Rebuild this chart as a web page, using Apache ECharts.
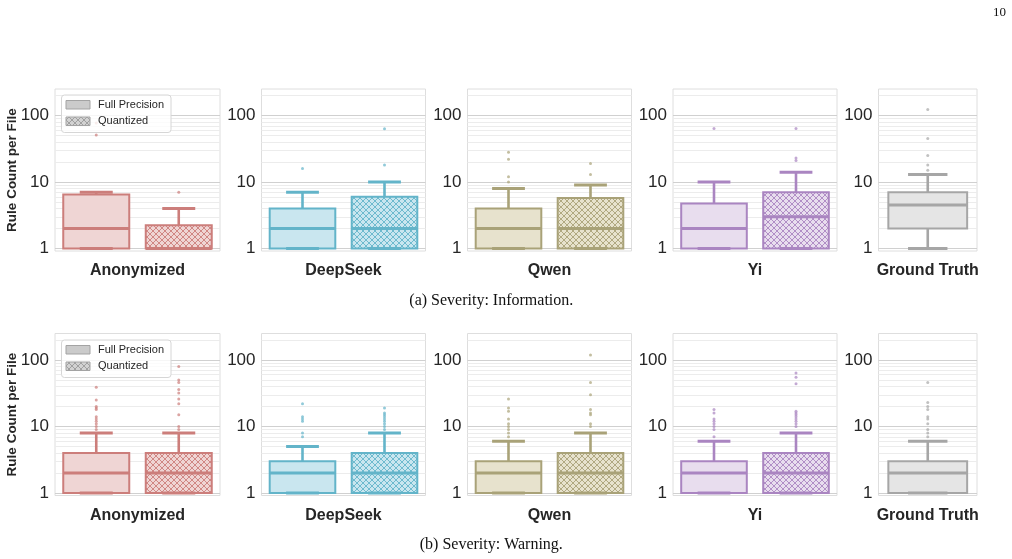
<!DOCTYPE html>
<html><head><meta charset="utf-8">
<script src="https://cdn.jsdelivr.net/npm/echarts@6/dist/echarts.min.js"></script>
<style>html,body{margin:0;padding:0;background:#fff}#c{width:1012px;height:559px}</style>
</head><body><div id="c"></div>
<script>
// ---------------- data ----------------
const categories = ['Anonymized', 'DeepSeek', 'Qwen', 'Yi', 'Ground Truth'];
const hues = ['Full Precision', 'Quantized'];
const rowCaptions = ['(a) Severity: Information.', '(b) Severity: Warning.'];
const yAxisTitle = 'Rule Count per File';
const yTickValues = [1, 10, 100];
const minorGridValues = [2, 3, 4, 5, 6, 7, 8, 9, 20, 30, 40, 50, 60, 70, 80, 90, 200];
const pageNumber = '10';

// box stats per category: [lowerWhisker, q1, median, q3, upperWhisker]
const infoFullPrecision = [[1, 1, 2, 6.5, 7], [1, 1, 2, 4, 7], [1, 1, 2, 4, 8], [1, 1, 2, 4.75, 10], [1, 2, 4.5, 7, 13]];
const infoQuantized = [[1, 1, 1, 2.25, 4], [1, 1, 2, 6, 10], [1, 1, 2, 5.75, 9], [1, 1, 3, 7, 14], null];
const infoFullPrecisionOutliers = [[51, 77], [16], [10, 12, 22, 28], [64], [15, 18, 25, 45, 123]];
const infoQuantizedOutliers = [[7], [18, 63], [13, 19], [21, 23, 64], null];

const warnFullPrecision = [[1, 1, 2, 4, 8], [1, 1, 2, 3, 5], [1, 1, 2, 3, 6], [1, 1, 2, 3, 6], [1, 1, 2, 3, 6]];
const warnQuantized = [[1, 1, 2, 4, 8], [1, 1, 2, 4, 8], [1, 1, 2, 4, 8], [1, 1, 2, 4, 8], null];
const warnFullPrecisionOutliers = [[9, 10, 11, 12, 13, 14, 18, 19, 20, 25, 39], [7, 8, 12, 13, 14, 22], [7, 8, 9, 10, 11, 13, 17, 19, 26], [7, 9, 10, 11, 12, 13, 16, 18], [7, 8, 9, 11, 13, 14, 18, 20, 23, 46]];
const warnQuantizedOutliers = [[9, 10, 15, 22, 26, 32, 36, 46, 50, 80], [9, 10, 11, 12, 13, 14, 15, 16, 19], [10, 11, 15, 16, 18, 30, 46, 119], [10, 11, 12, 13, 14, 15, 16, 17, 44, 55, 64], null];

// ---------------- style ----------------
const edgeColors = ['#cc7e7b', '#63b4c9', '#a9a278', '#aa85c1', '#a6a6a6'];
const fillColors = ['#efd5d4', '#c9e6ef', '#e7e2cd', '#e8ddee', '#e5e5e5'];
const SANS = '"Liberation Sans", Arial, "DejaVu Sans", sans-serif';
const SERIF = '"Liberation Serif", "Times New Roman", serif';
const panelLefts = [55, 261.5, 467.5, 673, 878.5];
const panelWidths = [165, 164, 164, 164, 98.5];
const rowTops = [89, 333.5];
const rowHeight = 162;
const yMin = 0.92, yMax = 250;

function makeHatch(bg, line) {
  const s = 6;
  const cv = document.createElement('canvas');
  cv.width = s; cv.height = s;
  const g = cv.getContext('2d');
  g.fillStyle = bg; g.fillRect(0, 0, s, s);
  g.strokeStyle = line; g.lineWidth = 0.9;
  g.beginPath();
  g.moveTo(-1, -1); g.lineTo(s + 1, s + 1);
  g.moveTo(-1, s + 1); g.lineTo(s + 1, -1);
  g.stroke();
  return { image: cv, repeat: 'repeat' };
}

function boxRenderer(edge, fill, offset, widthFrac) {
  return function (params, api) {
    const lo = api.value(1), q1 = api.value(2), med = api.value(3), q3 = api.value(4), hi = api.value(5);
    const band = api.size([1, 0])[0];
    const base = api.coord([api.value(0), med]);
    const cx = base[0] + offset * band;
    const w = widthFrac * band;
    const yLo = api.coord([0, lo])[1], yQ1 = api.coord([0, q1])[1], yMed = base[1],
          yQ3 = api.coord([0, q3])[1], yHi = api.coord([0, hi])[1];
    const capHalf = w / 4;
    return {
      type: 'group',
      children: [
        { type: 'line', shape: { x1: cx, y1: yQ3, x2: cx, y2: yHi }, style: { stroke: edge, lineWidth: 2.6 } },
        { type: 'line', shape: { x1: cx, y1: yQ1, x2: cx, y2: yLo }, style: { stroke: edge, lineWidth: 2.6 } },
        { type: 'rect', shape: { x: cx - w / 2, y: yQ3, width: w, height: yQ1 - yQ3 }, style: { fill: fill, stroke: edge, lineWidth: 2 } },
        { type: 'line', shape: { x1: cx - w / 2, y1: yMed, x2: cx + w / 2, y2: yMed }, style: { stroke: edge, lineWidth: 3 } },
        { type: 'line', shape: { x1: cx - capHalf, y1: yHi, x2: cx + capHalf, y2: yHi }, style: { stroke: edge, lineWidth: 3 } },
        { type: 'line', shape: { x1: cx - capHalf, y1: yLo, x2: cx + capHalf, y2: yLo }, style: { stroke: edge, lineWidth: 3 } }
      ]
    };
  };
}

function outlierRenderer(edge, offset) {
  return function (params, api) {
    const band = api.size([1, 0])[0];
    const p = api.coord([api.value(0), api.value(1)]);
    return { type: 'circle', shape: { cx: p[0] + offset * band, cy: p[1], r: 1.5 }, style: { fill: edge, opacity: 0.7 } };
  };
}

const rows = [
  { boxes: [infoFullPrecision, infoQuantized], outliers: [infoFullPrecisionOutliers, infoQuantizedOutliers] },
  { boxes: [warnFullPrecision, warnQuantized], outliers: [warnFullPrecisionOutliers, warnQuantizedOutliers] }
];

const grids = [], xAxes = [], yAxes = [], series = [], graphics = [];
const gridLineData = yTickValues.map(v => ({ yAxis: v, lineStyle: { color: '#d0d0d0', width: 1, type: 'solid' } }))
  .concat(minorGridValues.map(v => ({ yAxis: v, lineStyle: { color: '#ececec', width: 1, type: 'solid' } })));

rows.forEach((row, r) => {
  categories.forEach((cat, c) => {
    const gi = r * categories.length + c;
    grids.push({ left: panelLefts[c], width: panelWidths[c], top: rowTops[r], height: rowHeight,
      show: true, borderColor: '#dedede', borderWidth: 1, backgroundColor: 'transparent' });
    xAxes.push({ type: 'category', gridIndex: gi, data: [cat],
      axisLine: { show: false }, axisTick: { show: false }, splitLine: { show: false },
      axisLabel: { fontFamily: SANS, fontSize: 16, fontWeight: 'bold', color: '#262626', margin: 12 } });
    yAxes.push({ type: 'log', logBase: 10, gridIndex: gi, min: yMin, max: yMax,
      axisLine: { show: false }, axisTick: { show: false }, splitLine: { show: false },
      axisLabel: { fontFamily: SANS, fontSize: 17, color: '#262626', margin: 6, showMinLabel: false, showMaxLabel: false,
        formatter: v => { const k = yTickValues.find(t => Math.abs(t - v) < 1e-6 * t); return k ? String(k) : ''; } },
      name: c === 0 ? yAxisTitle : '', nameLocation: 'middle', nameGap: 36, nameRotate: 90, nameMoveOverlap: false,
      nameTextStyle: { fontFamily: SANS, fontSize: 13.5, fontWeight: 'bold', color: '#262626' } });

    const present = [0, 1].filter(h => row.boxes[h][c]);
    const single = present.length === 1;
    present.forEach((h, k) => {
      const offset = single ? 0 : (h === 0 ? -0.25 : 0.25);
      const widthFrac = single ? 0.8 : 0.4;
      const fill = h === 1 ? makeHatch(fillColors[c], edgeColors[c]) : fillColors[c];
      const s = {
        type: 'custom', name: hues[h], xAxisIndex: gi, yAxisIndex: gi, z: 3, silent: true, animation: false,
        renderItem: boxRenderer(edgeColors[c], fill, offset, widthFrac),
        encode: { x: 0, y: [1, 2, 3, 4, 5] },
        data: [[0].concat(row.boxes[h][c])]
      };
      if (k === 0) {
        s.markLine = { silent: true, symbol: ['none', 'none'], label: { show: false }, z: 1, animation: false, data: gridLineData };
      }
      series.push(s);
      series.push({
        type: 'custom', name: hues[h] + ' outliers', xAxisIndex: gi, yAxisIndex: gi, z: 4, silent: true, animation: false,
        renderItem: outlierRenderer(edgeColors[c], offset),
        encode: { x: 0, y: 1 },
        data: row.outliers[h][c].map(v => [0, v])
      });
    });
  });

  // legend (graphic) in first panel of the row
  const dy = r === 0 ? 0 : 245;
  graphics.push(
    { type: 'rect', z: 100, shape: { x: 61.5, y: 95 + dy, width: 109.5, height: 37.5, r: 3 },
      style: { fill: 'rgba(255,255,255,0.8)', stroke: '#d6d6d6', lineWidth: 1 } },
    { type: 'rect', z: 101, shape: { x: 66, y: 100.5 + dy, width: 24, height: 8.5 },
      style: { fill: '#cbcbcb', stroke: '#a3a3a3', lineWidth: 1 } },
    { type: 'text', z: 101, x: 98, y: 104.75 + dy,
      style: { text: hues[0], font: '11px ' + SANS, fill: '#262626', verticalAlign: 'middle' } },
    { type: 'rect', z: 101, shape: { x: 66, y: 117 + dy, width: 24, height: 8.5 },
      style: { fill: makeHatch('#d2d2d2', '#9a9a9a'), stroke: '#a3a3a3', lineWidth: 1 } },
    { type: 'text', z: 101, x: 98, y: 121.25 + dy,
      style: { text: hues[1], font: '11px ' + SANS, fill: '#262626', verticalAlign: 'middle' } },
    { type: 'text', z: 101, x: 491.3, y: r === 0 ? 300.7 : 544.5,
      style: { text: rowCaptions[r], font: '16px ' + SERIF, fill: '#111', align: 'center', verticalAlign: 'middle' } }
  );
});

graphics.push({ type: 'text', x: 1006, y: 12.7,
  style: { text: pageNumber, font: '13px ' + SERIF, fill: '#111', align: 'right', verticalAlign: 'middle' } });

const chart = echarts.init(document.getElementById('c'), null, { renderer: 'canvas' });
chart.setOption({
  animation: false,
  backgroundColor: '#ffffff',
  grid: grids, xAxis: xAxes, yAxis: yAxes, series: series, graphic: graphics
});
</script>
</body></html>
